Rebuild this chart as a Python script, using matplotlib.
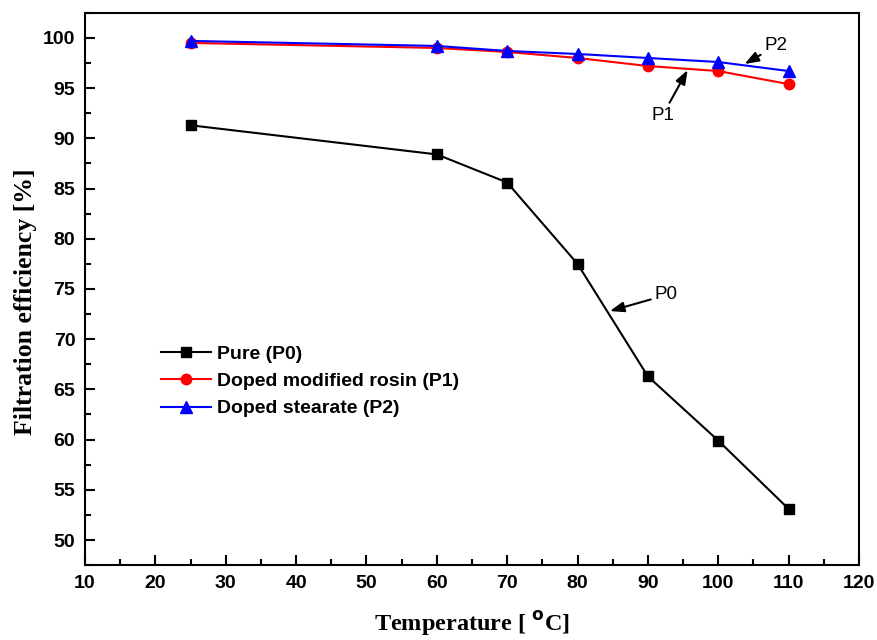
import matplotlib
matplotlib.use("Agg")
import matplotlib.pyplot as plt
from matplotlib.ticker import MultipleLocator

# ── Data ──────────────────────────────────────────────────────────────────────
temps = [25, 60, 70, 80, 90, 100, 110]
p0 = [91.3, 88.4, 85.6, 77.5, 66.3, 59.9, 53.1]
p1 = [99.5, 99.0, 98.6, 98.0, 97.2, 96.7, 95.4]
p2 = [99.7, 99.2, 98.7, 98.4, 98.0, 97.6, 96.7]
labels = ["Pure (P0)", "Doped modified rosin (P1)", "Doped stearate (P2)"]

SANS = "Liberation Sans"
SERIF = "Liberation Serif"

fig = plt.figure(figsize=(8.78, 6.4), dpi=100)
ax = fig.add_axes([0.0968, 0.117, 0.8815, 0.863])

ax.plot(temps, p0, color="black", marker="s", ms=7, lw=1.5, label=labels[0])
ax.plot(temps, p1, color="red", marker="o", ms=7.5, lw=1.5, label=labels[1])
ax.plot(temps, p2, color="blue", marker="^", ms=8, lw=1.5, label=labels[2])

ax.set_xlim(10, 120)
ax.set_ylim(47.5, 102.5)
ax.xaxis.set_major_locator(MultipleLocator(10))
ax.xaxis.set_minor_locator(MultipleLocator(5))
ax.yaxis.set_major_locator(MultipleLocator(5))
ax.yaxis.set_minor_locator(MultipleLocator(2.5))
ax.tick_params(which="both", direction="in", top=False, right=False, width=1.5)
ax.tick_params(which="major", length=7, labelsize=14, pad=7)
ax.tick_params(which="minor", length=4)
for lab in ax.get_xticklabels() + ax.get_yticklabels():
    lab.set_fontfamily(SANS)
    lab.set_fontweight("bold")
for sp in ax.spines.values():
    sp.set_linewidth(1.5)

ax.set_xlabel(r"Temperature [ $^{\mathbf{o}}$C]", fontfamily=SERIF,
              fontweight="bold", fontsize=17.5, labelpad=12)
ax.set_ylabel("Filtration efficiency [%]", fontfamily=SERIF,
              fontweight="bold", fontsize=18.5)
ax.yaxis.set_label_coords(-0.062, 0.476)

leg = ax.legend(loc="upper left", bbox_to_anchor=(0.075, 0.43), frameon=False,
                prop=dict(family=SANS, weight="bold", size=14),
                handlelength=2.6, handletextpad=0.3, labelspacing=0.5)

# ── Annotations ───────────────────────────────────────────────────────────────
arr = dict(arrowstyle="-|>,head_length=0.6,head_width=0.22", color="black",
           lw=1.5, mutation_scale=14, shrinkA=1, shrinkB=0)
ax.annotate("P2", xy=(103.75, 97.4), xytext=(106.6, 99.2), fontsize=13.5,
            fontfamily=SANS, ha="left", va="center", arrowprops=arr)
ax.annotate("P1", xy=(95.65, 96.8), xytext=(92.1, 92.3), fontsize=13.5,
            fontfamily=SANS, ha="center", va="center", arrowprops=arr)
ax.annotate("P0", xy=(84.6, 72.8), xytext=(91.0, 74.4), fontsize=13.5,
            fontfamily=SANS, ha="left", va="center", arrowprops=arr)

fig.savefig("out.png", dpi=100)
